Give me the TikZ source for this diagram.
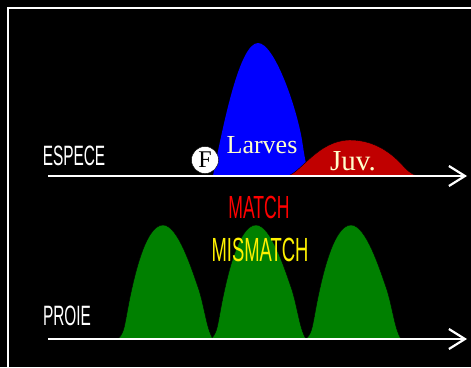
\documentclass[tikz,border=0pt]{standalone}
\usepackage{fontspec}
\setmainfont{Liberation Serif}
\newfontfamily\agency[FakeStretch=0.55]{Liberation Sans}
\usetikzlibrary{arrows.meta}
\definecolor{cream}{HTML}{FFFFCC}
\definecolor{juvred}{HTML}{C00000}
\definecolor{prey}{HTML}{008000}
\begin{document}
\begin{tikzpicture}[x=1pt, y=-1pt,
    axis/.style = {draw=white, line width=2.2pt, -{Straight Barb[length=16pt,width=20pt]}},
    lbl/.style = {anchor=base, inner sep=0pt, font=\agency\fontsize{28}{30}\selectfont, text=white},
    hump/.style = {fill=prey, draw=black, thin}]
  \fill[black] (0,0) rectangle (471,367);
  \useasboundingbox (0,0) rectangle (471,367);
  \draw[white, line width=2pt] (8,8) rectangle (490,390);
  % courbes espece
  \fill[blue] (213,176) .. controls (224,120) and (240,43) .. (258,43)
    .. controls (274,43) and (296,105) .. (302,140)
    .. controls (305,160) and (307,174) .. (313,176) -- cycle;
  \filldraw[fill=juvred, draw=black, thin] (287,176) .. controls (300,174) and (318,140) .. (350,140)
    .. controls (380,140) and (398,160) .. (405,168)
    .. controls (410,173) and (414,175) .. (418,176) -- cycle;
  % courbes proie
  \draw[hump] (118,339) .. controls (123,334) and (124,330) .. (127,313)
    .. controls (133,280) and (145,225) .. (163,225)
    .. controls (178,225) and (192,270) .. (199,290)
    .. controls (205,310) and (207,330) .. (213,339) -- cycle;
  \draw[hump, xshift=93pt] (118,339) .. controls (123,334) and (124,330) .. (127,313)
    .. controls (133,280) and (145,225) .. (163,225)
    .. controls (178,225) and (192,270) .. (199,290)
    .. controls (205,310) and (207,330) .. (213,339) -- cycle;
  \draw[hump, xshift=188pt] (118,339) .. controls (123,334) and (124,330) .. (127,313)
    .. controls (133,280) and (145,225) .. (163,225)
    .. controls (178,225) and (192,270) .. (199,290)
    .. controls (205,310) and (207,330) .. (213,339) -- cycle;
  % axes
  \coordinate (e0) at (48,176);
  \coordinate (e1) at (467,176);
  \coordinate (p0) at (48,339);
  \coordinate (p1) at (467,339);
  \draw[axis] (e0) -- (e1);
  \draw[axis] (p0) -- (p1);
  % textes
  \node[lbl] (espece) at (74,165) {ESPECE};
  \node[lbl] (proie) at (67,325) {PROIE};
  \node[lbl, text=red, font=\agency\fontsize{32}{34}\selectfont] (match) at (259,218) {MATCH};
  \node[lbl, text=yellow, font=\agency\fontsize{33.5}{35}\selectfont] (mismatch) at (260,261) {MISMATCH};
  \node[anchor=base, inner sep=0pt, text=cream, font=\fontsize{26}{28}\selectfont] (larves) at (262,153) {Larves};
  \node[anchor=base, inner sep=0pt, text=cream, font=\fontsize{29}{31}\selectfont] (juv) at (353,170) {Juv.};
  \node[circle, fill=white, draw=black, inner sep=0pt, minimum size=27pt, font=\fontsize{24}{26}\selectfont] (f) at (205,160) {F};
\end{tikzpicture}
\end{document}
